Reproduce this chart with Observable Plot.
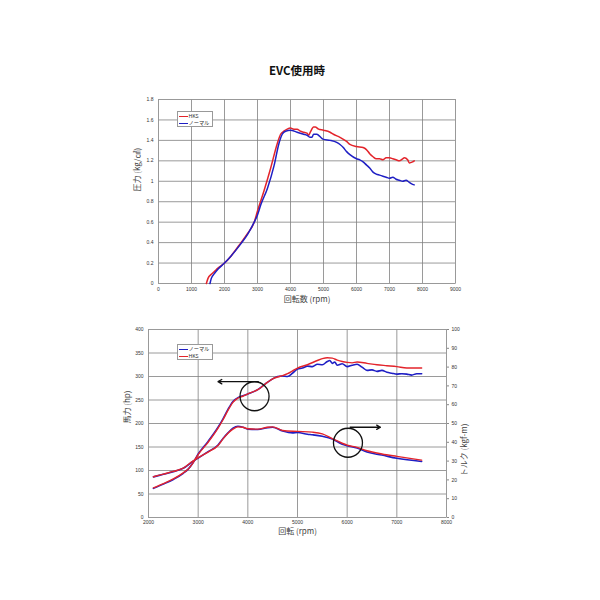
<!DOCTYPE html>
<html><head><meta charset="utf-8">
<script src="https://cdn.jsdelivr.net/npm/d3@7"></script>
<script src="https://cdn.jsdelivr.net/npm/@observablehq/plot@0.6"></script>
<style>
body{margin:0;background:#fff;font-family:"Liberation Sans","Noto Sans CJK JP",sans-serif;}
#wrap{position:relative;width:600px;height:600px;overflow:hidden;}
#title{position:absolute;left:0;width:594px;top:62px;text-align:center;font-weight:bold;font-size:11.5px;font-family:"Noto Sans CJK JP",sans-serif;color:#111;}
#top,#bottom{position:absolute;left:0;}
#top{top:80px;} #bottom{top:320px;}
.legend{position:absolute;border:0.6px solid #999;background:#fff;font-size:5.2px;line-height:7px;padding:0 3px 0 1px;color:#333;font-family:"Noto Sans CJK JP",sans-serif;}
.legend .sw{display:inline-block;width:9px;height:1.8px;vertical-align:middle;margin-right:1px;}
</style></head>
<body><div id="wrap">
<div id="title">EVC使用時</div>
<div id="top"></div>
<div id="bottom"></div>
<div class="legend" style="left:176.5px;top:111px;"><div><span class="sw" style="background:#e3242b"></span>HKS</div><div><span class="sw" style="background:#1f1fc4"></span>ノーマル</div></div>
<div class="legend" style="left:176.5px;top:344px;"><div><span class="sw" style="background:#1f1fc4"></span>ノーマル</div><div><span class="sw" style="background:#e3242b"></span>HKS</div></div>
</div>
<script>
// ---- Top chart: boost pressure (kg/cm2) vs rpm ----
const hksBoostRpm = [1450,1500,1600,1700,1800,2000,2200,2500,2700,2900,3000,3200,3400,3600,3700,3800,3900,4000,4100,4200,4300,4400,4500,4550,4600,4700,4750,4850,5000,5200,5300,5500,5700,5800,6000,6200,6300,6400,6500,6600,6700,6800,6900,7000,7100,7200,7300,7400,7450,7550,7600,7700,7750];
const hksBoost    = [0,0.05,0.09,0.12,0.15,0.2,0.27,0.4,0.49,0.6,0.71,0.91,1.13,1.37,1.46,1.49,1.51,1.52,1.51,1.51,1.49,1.48,1.47,1.45,1.48,1.53,1.53,1.51,1.5,1.48,1.46,1.43,1.39,1.36,1.34,1.33,1.31,1.27,1.24,1.22,1.22,1.21,1.23,1.23,1.22,1.21,1.2,1.22,1.23,1.21,1.18,1.19,1.2];
const normBoostRpm = [1560,1600,1700,1800,2000,2200,2500,2700,2900,3000,3100,3300,3500,3650,3750,3850,4000,4200,4400,4500,4600,4650,4700,4800,4850,4950,5000,5200,5400,5500,5600,5700,5800,6000,6100,6200,6300,6400,6500,6600,6700,6800,6900,7000,7100,7200,7300,7400,7500,7600,7700,7750];
const normBoost    = [0,0.05,0.1,0.14,0.2,0.27,0.39,0.48,0.6,0.67,0.77,0.93,1.15,1.37,1.46,1.49,1.5,1.48,1.46,1.45,1.43,1.43,1.46,1.46,1.45,1.42,1.41,1.4,1.38,1.36,1.33,1.29,1.26,1.22,1.21,1.19,1.16,1.13,1.09,1.07,1.06,1.05,1.04,1.03,1.04,1.02,1.01,1.0,1.01,0.99,0.97,0.965];
const topXTicks = [0,1000,2000,3000,4000,5000,6000,7000,8000,9000];
const topYTicks = [0,0.2,0.4,0.6,0.8,1.0,1.2,1.4,1.6,1.8];

// ---- Bottom chart: horsepower (hp) and torque (kgf-m) vs rpm ----
const hksHpRpm = [2100,2300,2500,2700,2800,2900,3000,3200,3400,3500,3600,3700,3800,3900,4000,4200,4400,4500,4600,4700,4800,4900,5000,5200,5400,5500,5600,5700,5800,5900,6000,6100,6200,6400,6600,6800,7000,7200,7400,7500];
const hksHp    = [63,72,82,95,103,117,134,160,190,208,228,245,254,258,263,272,288,295,299,302,306,312,318,325,334,338,340,339,335,332,330,329,331,328,325,323,321,318,318,318];
const normHpRpm = [2100,2300,2500,2700,2800,2900,3000,3200,3400,3500,3600,3700,3800,3900,4000,4200,4400,4500,4600,4700,4800,4900,5000,5100,5200,5300,5400,5500,5600,5650,5700,5750,5800,5900,6000,6100,6200,6300,6400,6500,6600,6700,6800,6900,7000,7100,7200,7300,7400,7500];
const normHp    = [62,71,81,94,103,117,135,162,192,210,230,247,255,259,263,272,288,295,300,301,300,307,316,318,322,321,326,325,332,334,328,331,324,327,321,324,326,320,313,314,311,313,309,307,305,306,305,303,306,306];
const hksTqRpm = [2100,2300,2500,2700,2900,3000,3200,3400,3500,3600,3700,3800,3900,4000,4200,4400,4500,4700,5000,5300,5500,5700,5900,6000,6200,6400,6700,7000,7500];
const hksTq    = [21.7,23.1,24.5,26.3,30.2,31.8,34.8,38.3,41.8,44.8,47.0,48.2,48.0,47.2,47.0,48.0,48.2,46.3,45.8,45.4,44.5,42.0,39.5,38.5,37.3,35.5,33.8,32.5,30.5];
const normTqRpm = [2100,2300,2500,2700,2900,3000,3200,3400,3500,3600,3700,3800,3900,4000,4200,4400,4500,4700,4900,5000,5200,5300,5500,5700,5900,6000,6200,6400,6700,7000,7500];
const normTq    = [21.6,23.0,24.4,26.2,30.0,31.6,35.0,38.6,42.0,45.0,47.5,48.5,48.0,47.0,46.8,47.8,48.0,46.0,45.0,45.2,44.3,44.0,43.2,41.8,39.0,38.2,37.0,34.8,33.2,31.5,29.8];
const botXTicks = [2000,3000,4000,5000,6000,7000,8000];
const hpTicks = [0,50,100,150,200,250,300,350,400];
const tqTicks = [0,10,20,30,40,50,60,70,80,90,100];
const hpPerKgfm = 4; // right axis 0-100 kgf-m spans left axis 0-400 hp

// annotations (chart units): arrows and circles
const arrowRpm1 = [4210, 6060], arrowRpm2 = [3400, 6670], arrowHp = [289, 192];
const circleRpm = [4135, 6016], circleHp = [258, 159];

const RED = "#e3242b", BLUE = "#1f1fc4", GRID = "#808080";
const zip = (xs, ys) => xs.map((x, i) => ({x, y: ys[i]}));
const fmtTop = d => String(+d.toFixed(1));
const JP = "Noto Sans CJK JP, sans-serif";

const topChart = Plot.plot({
  width: 600, height: 230,
  marginTop: 19, marginBottom: 27, marginLeft: 158, marginRight: 145,
  x: {domain: [0, 9000]},
  y: {domain: [0, 1.8]},
  style: {fontSize: "5px", fontFamily: "Liberation Sans, sans-serif", color: "#333", background: "transparent"},
  marks: [
    Plot.gridX(topXTicks, {stroke: GRID, strokeOpacity: 1, strokeWidth: 0.8}),
    Plot.gridY(topYTicks, {stroke: GRID, strokeOpacity: 1, strokeWidth: 0.8}),
    Plot.frame({stroke: "#999", strokeWidth: 0.8}),
    Plot.axisX(topXTicks, {tickSize: 0, tickPadding: 3.5, tickFormat: d => String(d), label: null}),
    Plot.axisY(topYTicks, {tickSize: 0, tickPadding: 5, tickFormat: fmtTop, label: null}),
    Plot.line(zip(hksBoostRpm, hksBoost), {x: "x", y: "y", stroke: RED, strokeWidth: 1.5, curve: "monotone-x"}),
    Plot.line(zip(normBoostRpm, normBoost), {x: "x", y: "y", stroke: BLUE, strokeWidth: 1.5, curve: "monotone-x"}),
    Plot.text(["回転数 (rpm)"], {frameAnchor: "bottom", dy: 18.5, fontSize: 8, fill: "#444", fontFamily: JP}),
    Plot.text(["圧力 (kg/㎠)"], {frameAnchor: "left", dx: -21, rotate: -90, fontSize: 8, fill: "#444", fontFamily: JP})
  ]
});
document.getElementById("top").append(topChart);

const arrows = arrowRpm1.map((x1, i) => ({x1, x2: arrowRpm2[i], y: arrowHp[i]}));
const circles = circleRpm.map((x, i) => ({x, y: circleHp[i]}));

const bottomChart = Plot.plot({
  width: 600, height: 220,
  marginTop: 9, marginBottom: 23, marginLeft: 148, marginRight: 154,
  x: {domain: [2000, 8000]},
  y: {domain: [0, 400]},
  style: {fontSize: "5px", fontFamily: "Liberation Sans, sans-serif", color: "#333", background: "transparent"},
  marks: [
    Plot.gridX(botXTicks, {stroke: GRID, strokeOpacity: 1, strokeWidth: 0.8}),
    Plot.gridY(hpTicks, {stroke: GRID, strokeOpacity: 1, strokeWidth: 0.8}),
    Plot.frame({stroke: "#999", strokeWidth: 0.8}),
    Plot.axisX(botXTicks, {tickSize: 0, tickPadding: 3, tickFormat: d => String(d), label: null}),
    Plot.axisY(hpTicks, {tickSize: 0, tickPadding: 5, label: null}),
    Plot.axisY(tqTicks.map(t => t * hpPerKgfm), {anchor: "right", tickSize: 2, tickPadding: 3, stroke: "#888", tickFormat: d => String(d / hpPerKgfm), label: null}),
    Plot.line(zip(normHpRpm, normHp), {x: "x", y: "y", stroke: BLUE, strokeWidth: 1.6, curve: "monotone-x"}),
    Plot.line(zip(normTqRpm, normTq), {x: "x", y: d => d.y * hpPerKgfm, stroke: BLUE, strokeWidth: 1.6, curve: "monotone-x"}),
    Plot.line(zip(hksHpRpm, hksHp), {x: "x", y: "y", stroke: RED, strokeWidth: 1.4, curve: "monotone-x"}),
    Plot.line(zip(hksTqRpm, hksTq), {x: "x", y: d => d.y * hpPerKgfm, stroke: RED, strokeWidth: 1.4, curve: "monotone-x"}),
    Plot.dot(circles, {x: "x", y: "y", r: 14.5, stroke: "#111", strokeWidth: 1.3, fill: "none"}),
    Plot.arrow(arrows, {x1: "x1", x2: "x2", y1: "y", y2: "y", stroke: "#111", strokeWidth: 1.3, headLength: 5}),
    Plot.text(["回転 (rpm)"], {frameAnchor: "bottom", dy: 16, fontSize: 8, fill: "#444", fontFamily: JP}),
    Plot.text(["馬力 (hp)"], {frameAnchor: "left", dx: -21, rotate: -90, fontSize: 8, fill: "#444", fontFamily: JP}),
    Plot.text(["トルク (kgf-m)"], {frameAnchor: "right", dx: 17.5, rotate: -90, fontSize: 8, fill: "#444", fontFamily: JP})
  ]
});
document.getElementById("bottom").append(bottomChart);
</script>
</body></html>
